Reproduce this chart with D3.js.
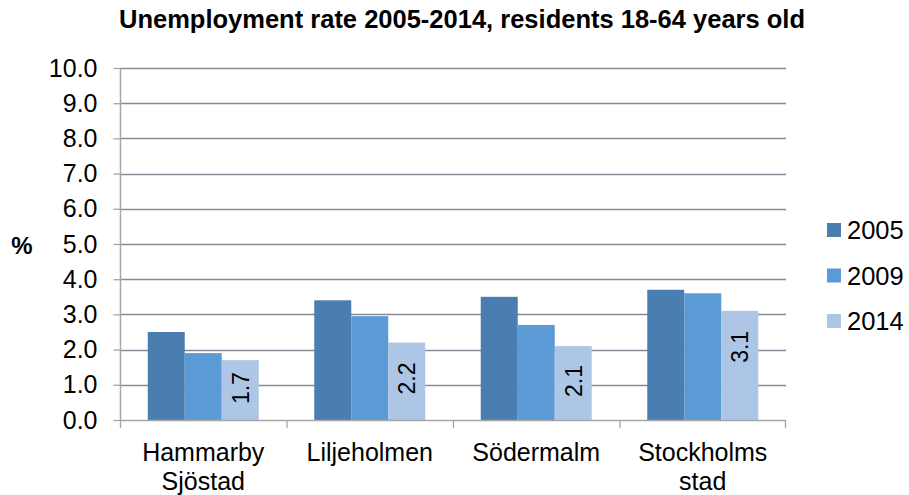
<!DOCTYPE html>
<html>
<head>
<meta charset="utf-8">
<script src="https://cdn.jsdelivr.net/npm/d3@7"></script>
<style>
  html, body { margin: 0; padding: 0; background: #fff; }
  svg { display: block; font-family: "Liberation Sans", Arial, sans-serif; }
</style>
</head>
<body>
<svg id="chart" width="909" height="495"></svg>
<script>
// Unemployment rate by district, residents 18-64
const categories = [["Hammarby", "Sjöstad"], ["Liljeholmen"], ["Södermalm"], ["Stockholms", "stad"]];
const years = ["2005", "2009", "2014"];
const values2005 = [2.5, 3.4, 3.5, 3.7];
const values2009 = [1.9, 2.95, 2.7, 3.6];
const values2014 = [1.7, 2.2, 2.1, 3.1];
const yTicks = [0, 1, 2, 3, 4, 5, 6, 7, 8, 9, 10];
const colors = ["#4a7eb0", "#5b9bd5", "#adc6e5"];

const series = [values2005, values2009, values2014];
const svg = d3.select("#chart");

const plot = { left: 120, right: 786, top: 68, bottom: 420 };

const x0 = d3.scaleBand()
  .domain(d3.range(categories.length))
  .range([plot.left, plot.right])
  .paddingInner(0)
  .paddingOuter(0);

// three touching bars per group, gap of 1.5 bar widths between groups
const x1 = d3.scaleBand()
  .domain(d3.range(years.length))
  .range([0, x0.bandwidth()])
  .paddingInner(0)
  .paddingOuter(0.75);

const y = d3.scaleLinear().domain([0, 10]).range([plot.bottom, plot.top]);

// Title
svg.append("text")
  .attr("x", 462).attr("y", 28)
  .attr("text-anchor", "middle")
  .attr("font-weight", "bold")
  .attr("font-size", 25.5)
  .attr("fill", "#000")
  .text("Unemployment rate 2005-2014, residents 18-64 years old");

// Gridlines
svg.append("g")
  .selectAll("line")
  .data(yTicks.filter(d => d > 0))
  .join("line")
  .attr("x1", plot.left).attr("x2", plot.right)
  .attr("y1", d => Math.round(y(d)) + 0.5).attr("y2", d => Math.round(y(d)) + 0.5)
  .attr("stroke", "#858b97")
  .attr("stroke-width", 1.3);

// Bars
const groups = svg.append("g")
  .selectAll("g")
  .data(categories.map((c, i) => i))
  .join("g")
  .attr("transform", i => `translate(${x0(i)},0)`);

groups.selectAll("rect")
  .data(i => series.map((s, k) => ({ k, v: s[i] })))
  .join("rect")
  .attr("x", d => x1(d.k))
  .attr("width", x1.bandwidth())
  .attr("y", d => y(d.v))
  .attr("height", d => y(0) - y(d.v))
  .attr("fill", d => colors[d.k]);

// Value labels on the 2014 bars, rotated, inside the bar end
groups.append("text")
  .attr("transform", i => {
    const v = values2014[i];
    const top = y(v);
    const mid = (top + y(0)) / 2;
    const cy = Math.min(top + 36, mid - 2);
    const cx = x1(2) + x1.bandwidth() / 2;
    return `translate(${cx},${cy}) rotate(-90)`;
  })
  .attr("text-anchor", "middle")
  .attr("dy", "0.36em")
  .attr("font-size", 23)
  .attr("fill", "#000")
  .text(i => values2014[i].toFixed(1));

// Y axis
const yAxis = d3.axisLeft(y)
  .tickValues(yTicks)
  .tickFormat(d3.format(".1f"))
  .tickSize(7)
  .tickPadding(16);

const gy = svg.append("g")
  .attr("transform", `translate(${plot.left + 0.5},0)`)
  .call(yAxis);
gy.select(".domain").attr("stroke", "#a6a6a6").attr("stroke-width", 1.5)
  .attr("d", `M0,${plot.top}V${plot.bottom}`);
gy.selectAll(".tick line").attr("stroke", "#a6a6a6").attr("stroke-width", 1.3);
gy.selectAll(".tick text")
  .attr("font-size", 25)
  .attr("font-family", "Liberation Sans, Arial, sans-serif")
  .attr("fill", "#000");

// X axis line and category ticks
const gx = svg.append("g");
gx.append("line")
  .attr("x1", plot.left).attr("x2", plot.right)
  .attr("y1", plot.bottom + 0.5).attr("y2", plot.bottom + 0.5)
  .attr("stroke", "#a6a6a6").attr("stroke-width", 1.5);
gx.selectAll("line.tick")
  .data(d3.range(categories.length + 1))
  .join("line")
  .attr("class", "tick")
  .attr("x1", i => i < categories.length ? x0(i) + 0.5 : plot.right - 0.5)
  .attr("x2", i => i < categories.length ? x0(i) + 0.5 : plot.right - 0.5)
  .attr("y1", plot.bottom).attr("y2", plot.bottom + 8)
  .attr("stroke", "#a6a6a6").attr("stroke-width", 1.3);

gx.selectAll("text.cat")
  .data(categories)
  .join("text")
  .attr("class", "cat")
  .attr("text-anchor", "middle")
  .attr("font-size", 25)
  .attr("fill", "#000")
  .attr("x", (c, i) => x0(i) + x0.bandwidth() / 2)
  .attr("y", 461)
  .selectAll("tspan")
  .data(c => c)
  .join("tspan")
  .attr("x", function() { return d3.select(this.parentNode).attr("x"); })
  .attr("dy", (d, j) => j === 0 ? 0 : 29)
  .text(d => d);

// Axis title
svg.append("text")
  .attr("x", 22).attr("y", 254)
  .attr("text-anchor", "middle")
  .attr("font-weight", "bold")
  .attr("font-size", 24)
  .attr("fill", "#000")
  .text("%");

// Legend
const legend = svg.append("g")
  .selectAll("g")
  .data(years)
  .join("g")
  .attr("transform", (d, i) => `translate(827,${230 + i * 45.5})`);
legend.append("rect")
  .attr("x", 0).attr("y", -7)
  .attr("width", 14).attr("height", 14)
  .attr("fill", (d, i) => colors[i]);
legend.append("text")
  .attr("x", 20).attr("y", 0)
  .attr("dy", "0.36em")
  .attr("font-size", 25.5)
  .attr("fill", "#000")
  .text(d => d);
</script>
</body>
</html>
